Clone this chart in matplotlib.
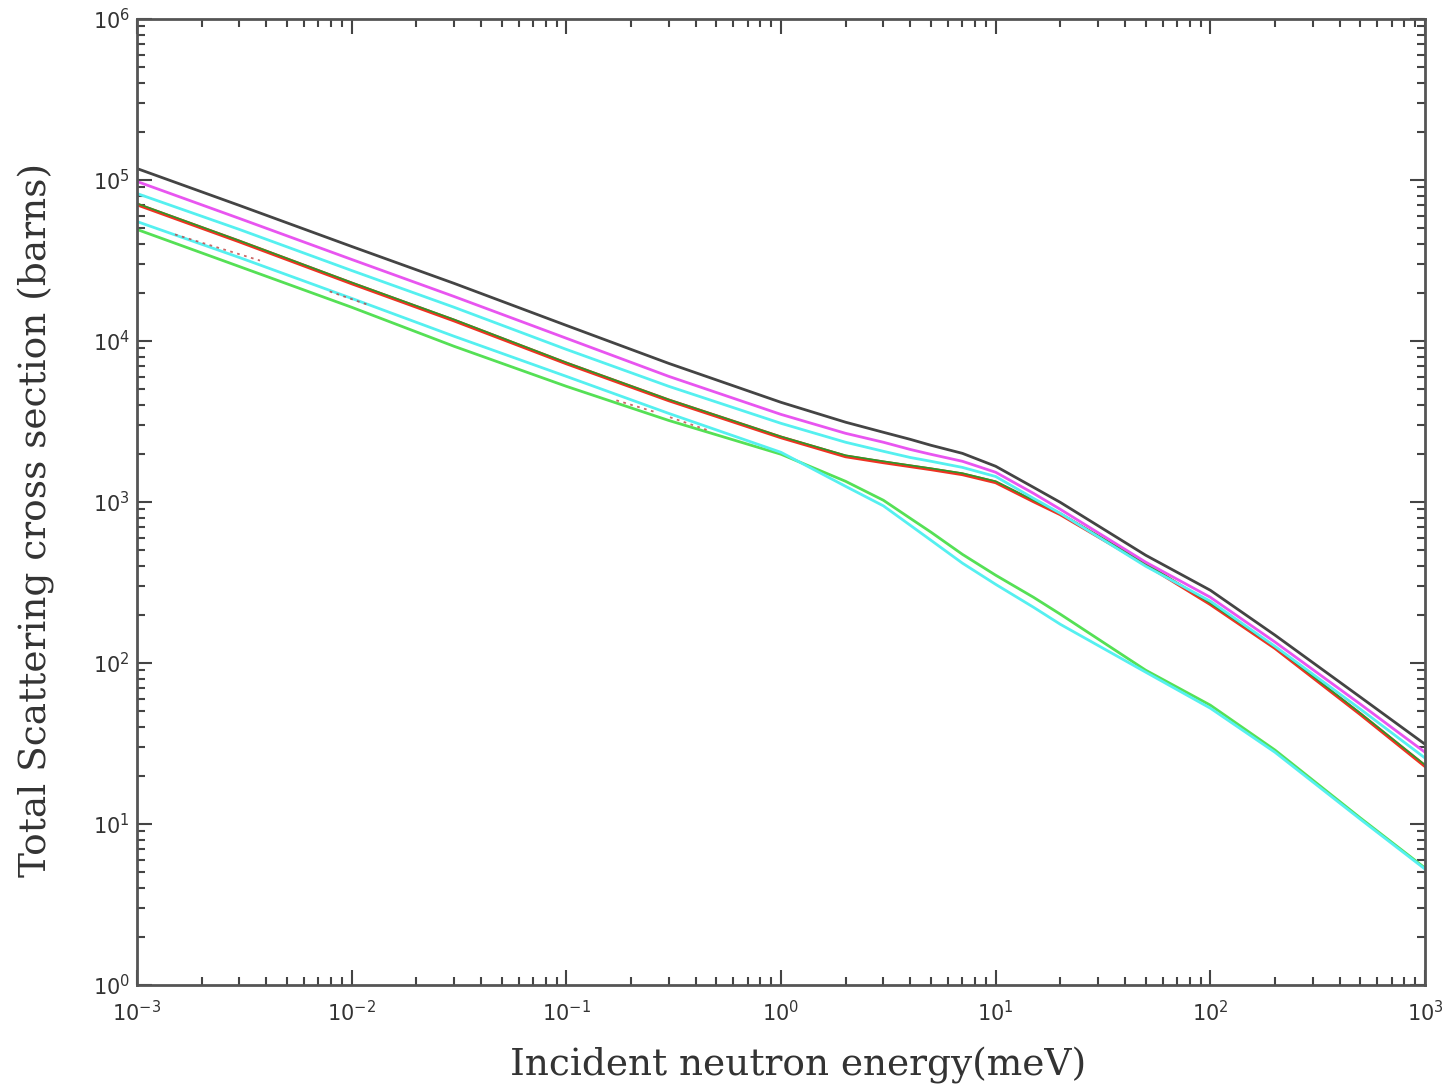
import numpy as np
import matplotlib
matplotlib.use("Agg")
import matplotlib.pyplot as plt
from matplotlib.ticker import LogLocator, NullFormatter, FixedLocator

plt.rcParams['mathtext.fontset'] = 'custom'
plt.rcParams['mathtext.rm'] = 'Liberation Sans'
plt.rcParams['mathtext.default'] = 'regular'

# ---- data (energy in meV, cross section in barns) ----
energy = [1e-3, 3e-3, 1e-2, 3e-2, 0.1, 0.3, 1, 2, 3, 4, 5, 7, 10, 15, 20, 50, 100, 200, 500, 1000]

sigma_black   = [117800, 69500, 38650, 22800, 12500, 7260, 4160, 3130, 2710, 2450, 2250, 2005, 1667, 1234, 995, 467, 283, 149, 61.4, 31.3]
sigma_magenta = [97900, 57700, 32100, 18900, 10400, 6030, 3500, 2670, 2350, 2120, 1977, 1790, 1530, 1132, 901, 423, 256, 135, 55.5, 27.9]
sigma_cyan1   = [82400, 49300, 27400, 16200, 8870, 5230, 3080, 2350, 2065, 1890, 1790, 1640, 1440, 1054, 851, 399, 242, 127, 51.7, 25.7]
sigma_red     = [70500, 41500, 22800, 13400, 7260, 4280, 2520, 1920, 1763, 1667, 1596, 1486, 1325, 1010, 839, 410, 232, 124, 48.1, 22.9]
sigma_green1  = [71500, 42000, 23100, 13600, 7350, 4330, 2550, 1950, 1790, 1690, 1619, 1510, 1345, 1025, 850, 415, 235, 126, 48.8, 23.3]
sigma_cyan2   = [55200, 33000, 18400, 10700, 6030, 3550, 2035, 1251, 946, 717, 578, 417, 308, 222, 174, 87.7, 52.4, 27.9, 10.7, 5.25]
sigma_green2  = [49300, 29000, 16200, 9270, 5230, 3210, 1980, 1344, 1025, 792, 649, 473, 351, 256, 201, 90.2, 54.7, 28.8, 10.9, 5.33]

dots_energy = [1.503e-3, 3.74e-3, np.nan, 7.9e-3, 1.22e-2, np.nan, 0.171, 0.263, np.nan, 0.304, 0.457]
dots_sigma  = [45900, 31600, np.nan, 20300, 16600, np.nan, 4280, 3600, np.nan, 3360, 2790]

xticks = [1e-3, 1e-2, 1e-1, 1e0, 1e1, 1e2, 1e3]
xticklabels = [r'$10^{-3}$', r'$10^{-2}$', r'$10^{-1}$', r'$10^{0}$', r'$10^{1}$', r'$10^{2}$', r'$10^{3}$']
yticks = [1e0, 1e1, 1e2, 1e3, 1e4, 1e5, 1e6]
yticklabels = [r'$10^{0}$', r'$10^{1}$', r'$10^{2}$', r'$10^{3}$', r'$10^{4}$', r'$10^{5}$', r'$10^{6}$']

# ---- figure ----
fig = plt.figure(figsize=(14.51, 10.92), dpi=100)
ax = fig.add_axes([137/1451, 1-985/1092, (1425-137)/1451, (985-19)/1092])

lw = 2.0
ax.plot(energy, sigma_green2, color='#55e055', lw=lw)
ax.plot(energy, sigma_cyan2, color='#55f0f0', lw=lw)
ax.plot(dots_energy, dots_sigma, color='#c04040', lw=1.3, ls=(0, (1.5, 2.5)), alpha=0.8)
ax.plot(energy, sigma_red, color='#ee3322', lw=lw + 0.6)
ax.plot(energy, sigma_green1, color='#2a9a2a', lw=1.2)
ax.plot(energy, sigma_cyan1, color='#55f0f0', lw=lw)
ax.plot(energy, sigma_magenta, color='#e855f0', lw=lw)
ax.plot(energy, sigma_black, color='#444444', lw=lw)

ax.set_xscale('log')
ax.set_yscale('log')
ax.set_xlim(1e-3, 1e3)
ax.set_ylim(1e0, 1e6)

ax.xaxis.set_major_locator(FixedLocator(xticks))
ax.set_xticklabels(xticklabels)
ax.yaxis.set_major_locator(FixedLocator(yticks))
ax.set_yticklabels(yticklabels)
for axis in (ax.xaxis, ax.yaxis):
    axis.set_minor_locator(LogLocator(base=10, subs=np.arange(2, 10), numticks=20))
    axis.set_minor_formatter(NullFormatter())

ax.tick_params(which='both', direction='in', top=True, right=True, color='#444444', width=1.5)
ax.tick_params(which='major', length=11, labelsize=15, labelcolor='#333333')
ax.tick_params(axis='x', which='major', pad=11)
ax.tick_params(axis='y', which='major', pad=5)
ax.tick_params(which='minor', length=6)
for s in ax.spines.values():
    s.set_color('#555555')
    s.set_linewidth(2.0)

ax.set_xlabel('Incident neutron energy(meV)', fontsize=27, family='DejaVu Serif', color='#333333')
ax.set_ylabel('Total Scattering cross section (barns)', fontsize=27, family='DejaVu Serif', color='#333333')
ax.xaxis.set_label_coords(0.513, -0.064)
ax.yaxis.set_label_coords(-0.064, 0.481)

fig.savefig('out.png', dpi=100)
